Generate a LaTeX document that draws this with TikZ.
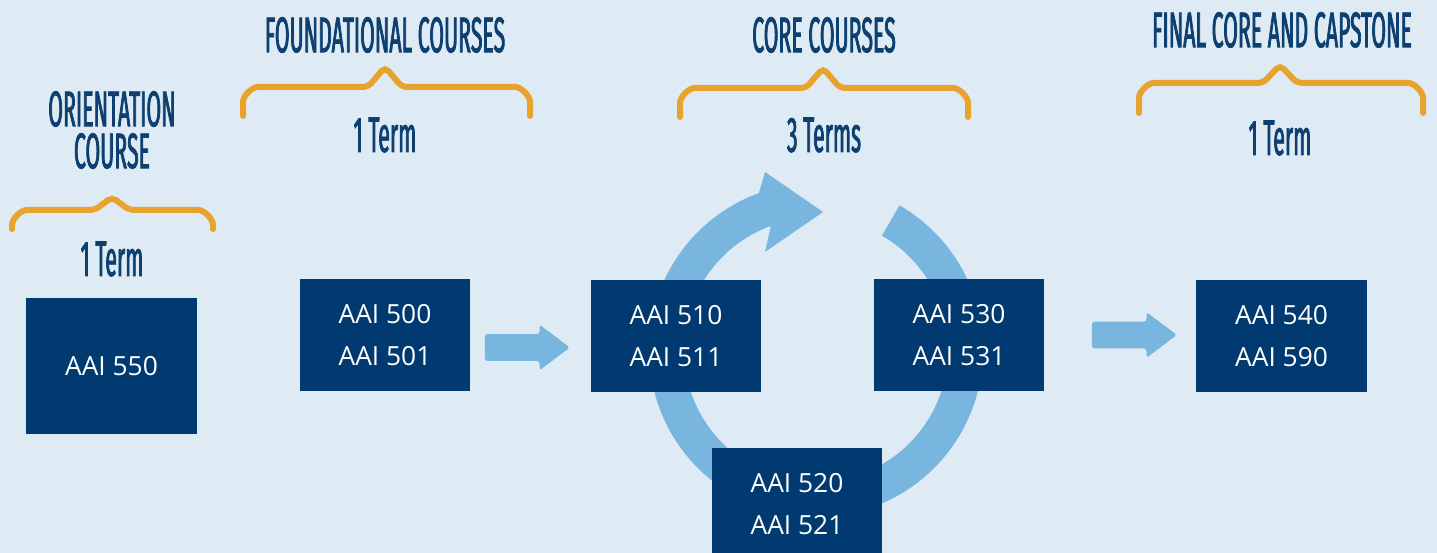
\documentclass[tikz,border=0pt]{standalone}
\usepackage{fontspec}
\setmainfont{Open Sans}
\newfontfamily\headfont[FakeStretch=0.425,FakeBold=1.5]{Fira Sans}
\usetikzlibrary{shapes.arrows,calc}

\definecolor{bgblue}{HTML}{DFEBF4}
\definecolor{navy}{HTML}{003A70}
\definecolor{headnavy}{HTML}{0D3F70}
\definecolor{arrowblue}{HTML}{78B6E0}
\definecolor{braceorange}{HTML}{E8A32E}

\begin{document}
\begin{tikzpicture}[x=0.02cm,y=0.02cm,
	course/.style={fill=navy,text=white,inner sep=0pt,minimum width=3.42cm,
		minimum height=2.24cm,align=center,font={\fontsize{15pt}{23.8pt}\selectfont}},
	title/.style={text=headnavy,align=center,inner sep=0pt,
		font={\headfont\fontsize{28.5pt}{30pt}\selectfont}},
	brace/.style={draw=braceorange,line width=0.12cm,line cap=round,rounded corners=3pt},
	blockarrow/.style={single arrow,fill=arrowblue,inner xsep=0pt,inner ysep=0.26cm,
		minimum height=1.7cm,minimum width=0.9cm,single arrow head extend=0.19cm,
		single arrow tip angle=74,rounded corners=1.5pt}]
	
	% Page
	\useasboundingbox (0,0) rectangle (1437,553);
	\fill[bgblue] (0,0) rectangle (1437,553);
	
	% ======================================================
	% Cycle of the core courses
	% ======================================================
	\coordinate (ringc) at (816,203);
	\fill[arrowblue] ($(ringc)+(60:167)$) arc[start angle=60,end angle=-250,radius=167]
	-- (765,381) -- (823,341) -- (765,301)
	-- ($(ringc)+(110:132)$) arc[start angle=110,end angle=420,radius=132] -- cycle;
	
	% Course boxes
	\node[course,minimum height=2.72cm] (c550) at (111.5,187) {AAI 550};
	\node[course] (c500) at (385,218) {AAI 500\\AAI 501};
	\node[course] (c510) at (676,217) {AAI 510\\AAI 511};
	\node[course] (c530) at (959,218) {AAI 530\\AAI 531};
	\node[course] (c520) at (797,49) {AAI 520\\AAI 521};
	\node[course] (c540) at (1281.5,217) {AAI 540\\AAI 590};
	
	% Block arrows between the stages
	\node[blockarrow] (go1) at (518.5,205.5) {};
	\node[blockarrow] (go2) at (1125.5,218) {};
	
	% ======================================================
	% Braces with stage titles and terms
	% ======================================================
	\foreach \xa/\xb/\xm/\yb/\ye/\yp in {12/213/112/343/324/356,
		243/530/385/466/437/486, 680/968/823/465/436/485, 1139/1423/1280/470/440/488}{
		\draw[brace] (\xa,\ye) -- (\xa,\yb-20) arc[start angle=180,end angle=90,radius=20]
		-- (\xm-17,\yb) -- (\xm,\yp) -- (\xm+17,\yb)
		-- (\xb-20,\yb) arc[start angle=90,end angle=0,radius=20] -- (\xb,\ye);
	}
	
	\node[title] (tOri) at (112,444) {ORIENTATION};
	\node[title] (tOri2) at (112,402) {COURSE};
	\node[title] (tFound) at (385,518) {FOUNDATIONAL COURSES};
	\node[title] (tCore) at (824,518) {CORE COURSES};
	\node[title] (tFinal) at (1282,523) {FINAL CORE AND CAPSTONE};
	
	\node[title] (nOri) at (112,294) {1 Term};
	\node[title] (nFound) at (385,418) {1 Term};
	\node[title] (nCore) at (824,418) {3 Terms};
	\node[title] (nFinal) at (1280,415) {1 Term};
	
\end{tikzpicture}
\end{document}
